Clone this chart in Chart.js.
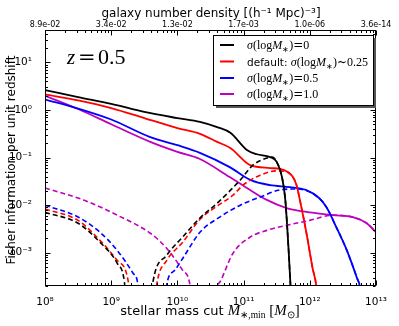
<!DOCTYPE html>
<html>
<head>
<meta charset="utf-8">
<script src="https://cdn.jsdelivr.net/npm/chart.js@4.4.0/dist/chart.umd.min.js"></script>
<style>html,body{margin:0;padding:0;background:#fff}</style>
</head>
<body>
<canvas id="chart" width="399" height="326"></canvas>
<script>
// values, stored as log10(M_*,min) and log10(Fisher info)
const blackSolidLogM = [8.0, 8.5, 9.0, 9.5, 10.0, 10.34, 10.6, 10.8, 11.05, 11.2, 11.4, 11.5, 11.58, 11.63, 11.68, 11.71, 11.74];
const blackSolidLogF = [0.42, 0.27, 0.13, -0.04, -0.17, -0.25, -0.36, -0.48, -0.84, -0.93, -0.99, -1.09, -1.41, -1.89, -2.95, -3.73, -4.5];
const redSolidLogM = [8.0, 8.5, 9.0, 9.5, 10.0, 10.34, 10.6, 10.8, 11.1, 11.4, 11.55, 11.66, 11.74, 11.8, 11.85, 11.95, 12.04, 12.1, 12.14];
const redSolidLogF = [0.33, 0.2, 0.04, -0.17, -0.38, -0.5, -0.67, -0.8, -1.16, -1.22, -1.24, -1.3, -1.4, -1.58, -1.89, -2.59, -3.31, -3.73, -4.5];
const blueSolidLogM = [8.0, 8.5, 9.0, 9.59, 10.0, 10.34, 10.79, 11.1, 11.4, 11.7, 11.94, 12.14, 12.25, 12.4, 12.56, 12.71, 12.76, 12.82];
const blueSolidLogF = [0.22, 0.03, -0.2, -0.57, -0.74, -0.9, -1.2, -1.47, -1.58, -1.62, -1.68, -1.85, -2.04, -2.46, -2.95, -3.52, -3.73, -4.4];
const magentaSolidLogM = [8.0, 8.5, 9.0, 9.59, 10.0, 10.34, 10.79, 11.05, 11.35, 11.65, 12.0, 12.35, 12.65, 12.86, 13.0];
const magentaSolidLogF = [0.3, 0.02, -0.3, -0.67, -0.88, -1.03, -1.41, -1.64, -1.89, -2.06, -2.15, -2.21, -2.25, -2.38, -2.57];

const blackDashLogM = [8.0, 8.5, 8.83, 9.09, 9.2, 9.24, 9.58, 9.63, 9.84, 10.08, 10.34, 10.6, 10.95, 11.14, 11.35, 11.43, 11.5, 11.58, 11.63, 11.68, 11.71, 11.74];
const blackDashLogF = [-2.15, -2.38, -2.78, -3.22, -3.62, -4.3, -4.3, -3.62, -3.05, -2.67, -2.27, -1.96, -1.47, -1.16, -1.01, -0.99, -1.09, -1.41, -1.89, -2.95, -3.73, -4.5];
const redDashLogM = [8.0, 8.5, 8.83, 9.09, 9.26, 9.3, 9.64, 9.69, 9.84, 10.08, 10.34, 10.6, 10.84, 10.99, 11.25, 11.5, 11.66, 11.74, 11.8, 11.85, 11.95, 12.04, 12.1, 12.14];
const redDashLogF = [-2.08, -2.32, -2.74, -3.16, -3.62, -4.3, -4.3, -3.65, -3.16, -2.78, -2.3, -2.02, -1.79, -1.58, -1.37, -1.28, -1.3, -1.4, -1.58, -1.89, -2.59, -3.31, -3.73, -4.5];
const blueDashLogM = [8.0, 8.5, 8.83, 9.09, 9.33, 9.4, 9.44, 9.8, 9.84, 9.96, 10.08, 10.34, 10.64, 10.95, 11.25, 11.55, 11.81, 12.14, 12.25, 12.4, 12.56, 12.71, 12.76, 12.82];
const blueDashLogF = [-2.0, -2.25, -2.57, -2.95, -3.43, -3.64, -4.3, -4.3, -3.66, -3.37, -3.12, -2.57, -2.25, -2.0, -1.83, -1.68, -1.66, -1.85, -2.04, -2.46, -2.95, -3.52, -3.73, -4.4];
const magentaDashLogM = [8.0, 8.58, 9.09, 9.59, 9.84, 10.08, 10.19, 10.23, 10.57, 10.61, 10.64, 10.84, 11.1, 11.35, 11.66, 12.0, 12.35, 12.5, 12.65, 12.86, 13.0];
const magentaDashLogF = [-1.64, -1.89, -2.21, -2.59, -2.91, -3.37, -3.68, -4.3, -4.3, -3.7, -3.62, -3.01, -2.67, -2.53, -2.42, -2.32, -2.21, -2.22, -2.25, -2.38, -2.57];

// top axis labels (number density at each decade of mass, 1e8 .. 1e13)
const densityLabels = ['8.9e-02', '3.4e-02', '1.3e-02', '1.7e-03', '1.0e-06', '3.6e-14'];
const legendPrefix = ['', 'default: ', '', ''];
const legendValue = ['=0', '~0.25', '=0.5', '=1.0'];
const colors = ['#000000', '#ff0000', '#0000ff', '#bf00bf'];

const toPoints = (lm, lf) => lm.map((m, i) => ({ x: Math.pow(10, m), y: Math.pow(10, lf[i]) }));

const solid = [
  toPoints(blackSolidLogM, blackSolidLogF),
  toPoints(redSolidLogM, redSolidLogF),
  toPoints(blueSolidLogM, blueSolidLogF),
  toPoints(magentaSolidLogM, magentaSolidLogF),
];
const dashed = [
  toPoints(blackDashLogM, blackDashLogF),
  toPoints(redDashLogM, redDashLogF),
  toPoints(blueDashLogM, blueDashLogF),
  toPoints(magentaDashLogM, magentaDashLogF),
];

const datasets = [];
dashed.forEach((d, i) => datasets.push({ data: d, borderColor: colors[i], borderDash: [5, 3], borderWidth: 1.6 }));
solid.forEach((d, i) => datasets.push({ data: d, borderColor: colors[i], borderWidth: 1.8 }));

const sup = { '0': '⁰', '1': '¹', '2': '²', '3': '³', '4': '⁴', '5': '⁵', '6': '⁶', '7': '⁷', '8': '⁸', '9': '⁹', '-': '⁻' };
function decade(v) {
  const e = Math.log10(v);
  const r = Math.round(e);
  return Math.abs(e - r) < 1e-6 ? r : null;
}
function pow10Label(v) {
  const r = decade(v);
  if (r === null) return '';
  return '10' + String(r).split('').map(c => sup[c]).join('');
}
function isNiceTick(v) {
  const e = Math.floor(Math.log10(v) + 1e-9);
  const m = v / Math.pow(10, e);
  return Math.abs(m - Math.round(m)) < 1e-6;
}

function drawRich(ctx, x, y, segs, align) {
  let w = 0;
  segs.forEach(s => { ctx.font = s.f; w += ctx.measureText(s.t).width; });
  let cx = align === 'center' ? x - w / 2 : x;
  segs.forEach(s => {
    ctx.font = s.f;
    ctx.fillText(s.t, cx, y + (s.dy || 0));
    cx += ctx.measureText(s.t).width;
  });
}

const serif = 'Liberation Serif';
const decor = {
  id: 'decor',
  afterDraw(chart) {
    const { ctx, chartArea: a, scales } = chart;
    ctx.save();
    ctx.strokeStyle = '#000';
    ctx.lineWidth = 1;
    const L = Math.round(a.left) + 0.5, R = Math.round(a.right) - 0.5;
    const T = Math.round(a.top) + 0.5, B = Math.round(a.bottom) - 0.5;
    ctx.strokeRect(L, T, R - L, B - T);

    // inward ticks on all four sides
    ctx.beginPath();
    scales.x.ticks.forEach(t => {
      if (!isNiceTick(t.value)) return;
      const px = Math.round(scales.x.getPixelForValue(t.value)) + 0.5;
      const len = decade(t.value) !== null ? 5 : 2.5;
      ctx.moveTo(px, B); ctx.lineTo(px, B - len);
      ctx.moveTo(px, T); ctx.lineTo(px, T + len);
    });
    scales.y.ticks.forEach(t => {
      if (!isNiceTick(t.value)) return;
      const py = Math.round(scales.y.getPixelForValue(t.value)) + 0.5;
      const len = decade(t.value) !== null ? 5 : 2.5;
      ctx.moveTo(L, py); ctx.lineTo(L + len, py);
      ctx.moveTo(R, py); ctx.lineTo(R - len, py);
    });
    ctx.stroke();

    // top axis: number density at each mass decade
    ctx.fillStyle = '#000';
    ctx.textAlign = 'center';
    ctx.textBaseline = 'alphabetic';
    ctx.font = '8px DejaVu Sans';
    scales.x.ticks.forEach(t => {
      const r = decade(t.value);
      if (r === null) return;
      ctx.fillText(densityLabels[r - 8], scales.x.getPixelForValue(t.value), 27);
    });
    ctx.textAlign = 'left';

    // z label
    ctx.font = 'italic 21px ' + serif;
    ctx.fillText('z', 67, 64);
    ctx.font = '21px DejaVu Serif';
    ctx.fillText('=', 78, 64);
    ctx.font = '22px ' + serif;
    ctx.fillText('0.5', 98, 64);

    // legend
    const bx = 213, by = 35, bw = 160, bh = 70;
    ctx.fillStyle = '#555';
    ctx.fillRect(bx + 3, by + 3, bw, bh);
    ctx.fillStyle = '#fff';
    ctx.fillRect(bx, by, bw, bh);
    ctx.strokeStyle = '#000';
    ctx.strokeRect(bx + 0.5, by + 0.5, bw, bh);
    const rows = [45, 61.5, 78, 94];
    rows.forEach((ry, i) => {
      ctx.strokeStyle = colors[i];
      ctx.lineWidth = 2;
      ctx.beginPath();
      ctx.moveTo(220, ry); ctx.lineTo(234, ry);
      ctx.stroke();
      ctx.fillStyle = '#000';
      const segs = [];
      if (legendPrefix[i]) segs.push({ t: legendPrefix[i], f: '10.5px DejaVu Sans' });
      segs.push(
        { t: 'σ', f: 'italic 12px ' + serif },
        { t: '(log', f: '12px ' + serif },
        { t: 'M', f: 'italic 12px ' + serif },
        { t: '∗', f: '8px ' + serif, dy: 3 },
        { t: ')', f: '12px ' + serif },
        { t: legendValue[i].charAt(0), f: '12px DejaVu Serif' },
        { t: legendValue[i].slice(1), f: '12px ' + serif }
      );
      drawRich(ctx, 247, ry + 4, segs);
    });

    // axis titles
    ctx.fillStyle = '#000';
    drawRich(ctx, 211, 17, [{ t: 'galaxy number density [(h⁻¹ Mpc)⁻³]', f: '12px DejaVu Sans' }], 'center');
    drawRich(ctx, 210, 315, [
      { t: 'stellar mass cut ', f: '13px DejaVu Sans' },
      { t: 'M', f: 'italic 15px ' + serif },
      { t: '∗,min', f: '9.5px ' + serif, dy: 3 },
      { t: ' [', f: '15px ' + serif },
      { t: 'M', f: 'italic 15px ' + serif },
      { t: '⊙', f: '9.5px ' + serif, dy: 3 },
      { t: ']', f: '15px ' + serif },
    ], 'center');
    ctx.translate(12, 160);
    ctx.rotate(-Math.PI / 2);
    ctx.textAlign = 'center';
    ctx.textBaseline = 'middle';
    ctx.font = '12px DejaVu Sans';
    ctx.fillText('Fisher information per unit redshift', 0, 0);
    ctx.restore();
  }
};

const tickFont = { family: 'DejaVu Sans', size: 10.5 };
new Chart(document.getElementById('chart'), {
  type: 'line',
  data: { datasets: datasets },
  options: {
    responsive: false,
    animation: false,
    layout: { padding: { left: 0, right: 23, top: 30, bottom: 0 } },
    elements: { point: { radius: 0 }, line: { cubicInterpolationMode: 'monotone' } },
    plugins: { legend: { display: false }, tooltip: { enabled: false } },
    scales: {
      x: {
        type: 'logarithmic', min: 1e8, max: 1e13,
        grid: { display: false }, border: { display: false },
        ticks: { autoSkip: false, maxRotation: 0, padding: 2, color: '#000', font: tickFont, callback: v => pow10Label(v) },
        afterFit: s => { s.height = 40; }
      },
      y: {
        type: 'logarithmic', min: 2e-4, max: 48,
        grid: { display: false }, border: { display: false },
        ticks: { autoSkip: false, padding: 5, color: '#000', font: tickFont, callback: v => pow10Label(v) },
        afterFit: s => { s.width = 45; }
      }
    }
  },
  plugins: [decor]
});
</script>
</body>
</html>
